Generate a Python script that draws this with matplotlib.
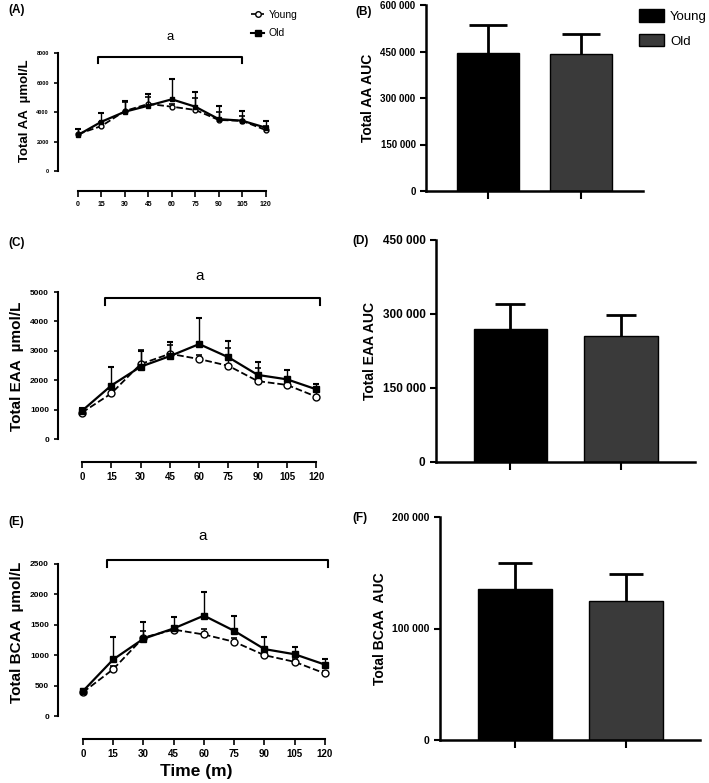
"""Plasma amino acid time courses and AUC, young vs old.

"""
import numpy as np
import matplotlib.pyplot as plt
from matplotlib.ticker import FuncFormatter
from matplotlib.patches import Patch
from matplotlib.lines import Line2D

plt.rcParams['font.family'] = ['Liberation Sans', 'DejaVu Sans']

W, H = 709, 783

time_min = [0, 15, 30, 45, 60, 75, 90, 105, 120]

# total AA (umol/L)
aa_young = [2500, 3050, 4070, 4550, 4360, 4140, 3460, 3400, 2780]
aa_young_err = [350, 300, 630, 500, 200, 800, 560, 300, 250]
aa_old = [2440, 3340, 4020, 4430, 4860, 4360, 3520, 3410, 2940]
aa_old_err = [400, 600, 730, 770, 1380, 980, 900, 680, 450]

# total EAA (umol/L)
eaa_young = [900, 1550, 2550, 2900, 2720, 2490, 1970, 1840, 1440]
eaa_young_err = [100, 200, 480, 300, 150, 610, 430, 150, 150]
eaa_old = [960, 1820, 2460, 2820, 3230, 2780, 2180, 2030, 1690]
eaa_old_err = [100, 620, 550, 480, 870, 560, 450, 320, 180]

# total BCAA (umol/L)
bcaa_young = [390, 770, 1290, 1420, 1340, 1220, 1000, 890, 700]
bcaa_young_err = [40, 60, 110, 60, 95, 60, 60, 50, 40]
bcaa_old = [410, 930, 1270, 1440, 1650, 1400, 1100, 1015, 845]
bcaa_old_err = [40, 370, 270, 190, 385, 245, 200, 125, 90]

# AUC
groups = ['Young', 'Old']
aa_auc = [445000, 442000]
aa_auc_err = [90000, 63000]
eaa_auc = [270000, 255000]
eaa_auc_err = [50000, 43000]
bcaa_auc = [135000, 125000]
bcaa_auc_err = [24000, 24000]

# significance bracket (start, end, height, label x, label height)
aa_bracket = (13, 105, 7730, 59, 9080)
eaa_bracket = (12, 122, 4800, 60, 5540)
bcaa_bracket = (12, 121.5, 2570, 59.5, 2960)

fig = plt.figure(figsize=(W / 100, H / 100), dpi=100)


def px_axes(left, top, right, bottom):
    """Axes from pixel box."""
    return fig.add_axes([left / W, 1 - bottom / H, (right - left) / W,
                         (bottom - top) / H])


def up_errorbar(ax, x, y, err, **kw):
    """Upper-only error bars, lower cap hidden."""
    res = ax.errorbar(x, y, yerr=[np.zeros(len(err)), err], **kw)
    if len(res[1]) == 2:
        res[1][0].set_visible(False)
    return res


def line_panel(ax, young, young_err, old, old_err, ymax, ystep, ylow, ytop,
               bracket, ylabel, ylab_size, ytick_size, xtick_size, ms):
    up_errorbar(ax, time_min, young, young_err, fmt='o--', color='black',
                mfc='white', mec='black', ms=ms, lw=1.3, elinewidth=1.0,
                capsize=2.5, capthick=1.2, zorder=3)
    up_errorbar(ax, time_min, old, old_err, fmt='s-', color='black', ms=ms,
                lw=1.6, elinewidth=1.0, capsize=2.5, capthick=1.5, zorder=4)
    ax.set_ylim(ylow, ytop)
    ax.spines['top'].set_visible(False)
    ax.spines['right'].set_visible(False)
    ax.spines['left'].set_bounds(0, ymax)
    ax.spines['bottom'].set_bounds(0, 120)
    for s in ('left', 'bottom'):
        ax.spines[s].set_linewidth(1.5)
    ax.set_yticks(np.arange(0, ymax + 1, ystep))
    ax.set_xticks(time_min)
    ax.tick_params(axis='y', labelsize=ytick_size, length=3, width=1.2)
    ax.tick_params(axis='x', labelsize=xtick_size, length=4, width=1.2)
    for lab in ax.get_xticklabels() + ax.get_yticklabels():
        lab.set_fontweight('bold')
    ax.set_ylabel(ylabel, fontsize=ylab_size, fontweight='bold', labelpad=4)
    x0, x1, yb, xa, ya = bracket
    tick = (ytop - ylow) * 0.035
    ax.plot([x0, x0, x1, x1], [yb - tick, yb, yb, yb - tick], color='black',
            lw=1.5, clip_on=False)
    ax.text(xa, ya, 'a', ha='center', va='center',
            fontsize=max(ylab_size, 9.5))


def bar_panel(ax, values, errs, ymax, ystep, ylabel, cap, tsize):
    xs = np.arange(len(groups))
    ax.bar(xs, values, width=0.667, color=['black', '#3a3a3a'],
           edgecolor='black', lw=1.0, zorder=2)
    up_errorbar(ax, xs, values, errs, fmt='none', ecolor='black',
                elinewidth=2.0, capsize=cap, capthick=2.0, zorder=3)
    ax.set_ylim(0, ymax)
    ax.set_xlim(-0.672, 1.665)
    ax.spines['top'].set_visible(False)
    ax.spines['right'].set_visible(False)
    for s in ('left', 'bottom'):
        ax.spines[s].set_linewidth(1.8)
    ax.set_yticks(np.arange(0, ymax + 1, ystep))
    ax.yaxis.set_major_formatter(
        FuncFormatter(lambda v, p: '{:,}'.format(int(v)).replace(',', ' ')))
    ax.set_xticks(xs)
    ax.set_xticklabels([])
    ax.tick_params(axis='y', labelsize=tsize, length=4, width=1.5)
    ax.tick_params(axis='x', length=6, width=1.5)
    for lab in ax.get_yticklabels():
        lab.set_fontweight('bold')
    ax.set_ylabel(ylabel, fontsize=10, fontweight='bold', labelpad=4)


# (A)
axA = px_axes(58, 30, 275, 191)
axA.set_xlim(-12.8, 126)
line_panel(axA, aa_young, aa_young_err, aa_old, aa_old_err, 8000, 2000,
           -1356, 9560, aa_bracket, 'Total AA  µmol/L', 9.5, 4, 5, 3.5)
handles = [Line2D([], [], ls='--', marker='o', color='black', mfc='white',
                  ms=4, lw=1.2),
           Line2D([], [], ls='-', marker='s', color='black', ms=4, lw=1.5)]
axA.legend(handles, groups, loc='upper left', bbox_to_anchor=(0.87, 1.15),
           frameon=False, fontsize=7.5, handlelength=1.3, handletextpad=0.4,
           labelspacing=0.8, borderaxespad=0)

# (C)
axC = px_axes(58, 270, 330, 462)
axC.set_xlim(-12.3, 127)
line_panel(axC, eaa_young, eaa_young_err, eaa_old, eaa_old_err, 5000, 1000,
           -782, 5750, eaa_bracket, 'Total EAA  µmol/L', 11, 6, 7, 5)

# (E)
axE = px_axes(58, 525, 335, 739)
axE.set_xlim(-12.4, 125)
line_panel(axE, bcaa_young, bcaa_young_err, bcaa_old, bcaa_old_err, 2500,
           500, -378, 3140, bcaa_bracket, 'Total BCAA  µmol/L', 11, 6, 7, 5)
axE.set_xlabel('Time (m)', fontsize=12.5, fontweight='bold', labelpad=3)

# (B)
axB = px_axes(426, 5, 643, 191)
bar_panel(axB, aa_auc, aa_auc_err, 600000, 150000, 'Total AA AUC', 13.5, 7)
axB.legend([Patch(facecolor='black', edgecolor='black'),
            Patch(facecolor='#3a3a3a', edgecolor='black')], groups,
           loc='upper left', bbox_to_anchor=(0.955, 1.005), frameon=False,
           fontsize=9.5, handlelength=1.9, handleheight=1.1,
           handletextpad=0.5, labelspacing=0.8, borderaxespad=0)

# (D)
axD = px_axes(436, 240, 695, 462)
bar_panel(axD, eaa_auc, eaa_auc_err, 450000, 150000, 'Total EAA AUC', 10.5,
          8.5)

# (F)
axF = px_axes(440, 517, 700, 740)
bar_panel(axF, bcaa_auc, bcaa_auc_err, 200000, 100000, 'Total BCAA  AUC',
          12.5, 7.5)

for lab, x, y in [('(A)', 8, 10), ('(B)', 355, 12), ('(C)', 8, 243),
                  ('(D)', 352, 241), ('(E)', 8, 522), ('(F)', 352, 518)]:
    fig.text(x / W, 1 - y / H, lab, fontsize=8.5, fontweight='bold',
             va='center', ha='left')

fig.savefig('out.png', dpi=100)
